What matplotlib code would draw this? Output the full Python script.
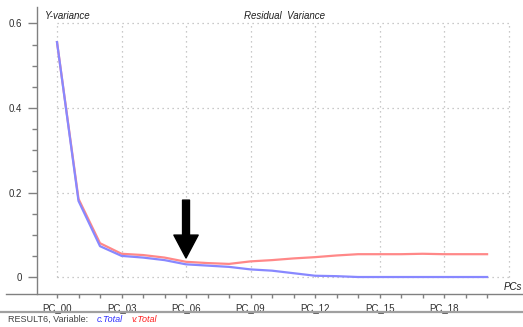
import matplotlib
matplotlib.use("Agg")
import matplotlib.pyplot as plt
from matplotlib.lines import Line2D

plt.rcParams['font.family'] = ['Liberation Sans', 'DejaVu Sans']

# ---- data ----
pcs = list(range(21))
c_total = [0.556, 0.180, 0.073, 0.050, 0.046, 0.040, 0.030, 0.027, 0.024, 0.018,
           0.015, 0.009, 0.003, 0.002, 0.000, 0.000, 0.000, 0.000, 0.000, 0.000, 0.000]
v_total = [0.556, 0.185, 0.080, 0.055, 0.052, 0.046, 0.036, 0.033, 0.031, 0.037,
           0.040, 0.044, 0.047, 0.051, 0.054, 0.054, 0.054, 0.055, 0.054, 0.054, 0.054]
xtick_pos = [0, 3, 6, 9, 12, 15, 18]
xtick_labels = ["PC_00", "PC_03", "PC_06", "PC_09", "PC_12", "PC_15", "PC_18"]
ytick_pos = [0, 0.2, 0.4, 0.6]
ytick_labels = ["0", "0.2", "0.4", "0.6"]
arrow_x = 6
arrow_from, arrow_to = 0.182, 0.045

W, H = 523, 327
fig = plt.figure(figsize=(W / 100, H / 100), dpi=100)

def px(x0, y0):
    return x0 / W, 1 - y0 / H

left, right, top, bottom = 37, 523, 7, 294
ax = fig.add_axes([left / W, 1 - bottom / H, (right - left) / W, (bottom - top) / H])

ax.set_xlim(-0.93, 21.67)
ax.set_ylim(-0.0402, 0.639)

# grid (dotted, only inside the data box)
gcol = '#b8b8b8'
for y in ytick_pos:
    ax.plot([0, 21], [y, y], color=gcol, lw=0.9, ls=(0, (1, 3)), zorder=1)
for x in range(0, 22, 3):
    ax.plot([x, x], [0, 0.6], color=gcol, lw=0.9, ls=(0, (1, 3)), zorder=1)

ax.plot(pcs, v_total, color='#ff8888', lw=1.6, zorder=3)
ax.plot(pcs, c_total, color='#8888ff', lw=1.6, zorder=3)

ax.annotate('', xy=(arrow_x, arrow_to), xytext=(arrow_x, arrow_from),
            arrowprops=dict(arrowstyle='simple,head_width=1.75,head_length=1.65,tail_width=0.5',
                            mutation_scale=10, color='black', shrinkA=0, shrinkB=0), zorder=5)

for s in ['top', 'right', 'bottom']:
    ax.spines[s].set_visible(False)
ax.spines['left'].set_color('#808080')
ax.spines['left'].set_linewidth(1.0)

tcol = '#303030'
fs = 7
ax.set_xticks(xtick_pos)
ax.set_xticklabels(xtick_labels)
ax.set_xticks(range(0, 21), minor=True)
ax.set_yticks(ytick_pos)
ax.set_yticklabels(ytick_labels)
ax.set_yticks([0.05, 0.1, 0.15, 0.25, 0.3, 0.35, 0.45, 0.5, 0.55], minor=True)
ax.tick_params(axis='y', which='major', length=6.5, width=1, color='#808080',
               labelsize=fs, labelcolor=tcol, pad=4)
ax.tick_params(axis='y', which='minor', length=3.5, width=1, color='#808080')
ax.tick_params(axis='x', which='both', length=3, width=1, color='#808080',
               labelsize=fs, labelcolor=tcol, pad=3.5, direction='out')

# x axis line extending left of y axis
fig.add_artist(Line2D([6 / W, 1], [1 - 294 / H, 1 - 294 / H], color='#808080', lw=1.0))
# bottom separator
fig.add_artist(Line2D([0, 1], [1 - 312 / H, 1 - 312 / H], color='#a0a0a0', lw=1.6))

fig.text(*px(45, 16), 'Y-variance', fontsize=fs, style='italic', color='#202020',
         ha='left', va='center')
fig.text(*px(284, 16), 'Residual  Variance', fontsize=fs, style='italic', color='#202020',
         ha='center', va='center')
fig.text(*px(522, 287), 'PCs', fontsize=fs, style='italic', color='#202020',
         ha='right', va='center')

bfs = 6.5
fig.text(*px(8, 319), 'RESULT6, Variable:', fontsize=bfs, color='#404040', ha='left', va='center')
fig.text(*px(97, 319), 'c.Total', fontsize=bfs, style='italic', color='#3030ff', ha='left', va='center')
fig.text(*px(131, 319), 'v.Total', fontsize=bfs, style='italic', color='#ff2020', ha='left', va='center')

fig.savefig('out.png', dpi=100)
